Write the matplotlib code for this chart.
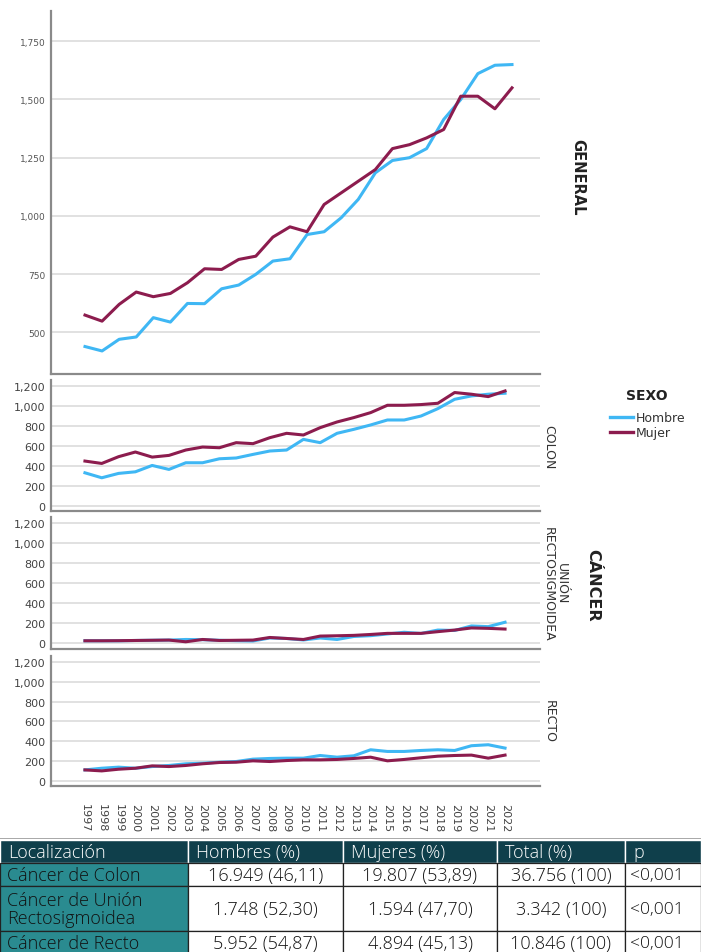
import numpy as np
import matplotlib
matplotlib.use("Agg")
import matplotlib.pyplot as plt
from matplotlib.patches import Rectangle
from matplotlib.ticker import FuncFormatter

years = list(range(1997, 2023))

# casos por año, general
general_hombre = [439, 420, 470, 480, 563, 544, 624, 623, 687, 703, 749, 806, 816,
                  920, 932, 992, 1071, 1185, 1238, 1250, 1289, 1414, 1500, 1611, 1647, 1650]
general_mujer = [574, 548, 620, 673, 653, 667, 713, 773, 770, 813, 827, 909, 953,
                 932, 1049, 1099, 1149, 1199, 1289, 1306, 1335, 1371, 1514, 1514, 1460, 1550]

colon_hombre = [329, 279, 323, 339, 403, 363, 430, 430, 470, 478, 514, 548, 558,
                665, 632, 726, 766, 810, 860, 860, 900, 974, 1068, 1102, 1119, 1129]
colon_mujer = [447, 423, 491, 538, 487, 504, 558, 588, 581, 632, 622, 682, 726,
               709, 783, 840, 884, 934, 1008, 1008, 1015, 1028, 1136, 1119, 1095, 1152]

union_hombre = [27, 27, 27, 30, 32, 34, 40, 38, 32, 28, 25, 55, 50,
                35, 55, 40, 70, 78, 95, 112, 100, 134, 130, 175, 168, 212]
union_mujer = [27, 27, 28, 30, 32, 34, 17, 40, 30, 32, 34, 60, 50,
               40, 74, 77, 81, 90, 101, 101, 101, 118, 134, 155, 151, 144]

recto_hombre = [108, 125, 136, 125, 142, 153, 170, 176, 186, 193, 217, 224, 227,
                227, 254, 237, 251, 312, 295, 295, 305, 312, 305, 353, 363, 329]
recto_mujer = [108, 98, 115, 125, 149, 142, 153, 170, 183, 186, 200, 193, 203,
               210, 210, 214, 224, 237, 200, 214, 231, 247, 254, 258, 227, 258]

panel_names = ["COLON", "UNIÓN\nRECTOSIGMOIDEA", "RECTO"]

table_header = ["Localización", "Hombres (%)", "Mujeres (%)", "Total (%)", "p"]
table_rows = [
    ["Cáncer de Colon", "16.949 (46,11)", "19.807 (53,89)", "36.756 (100)", "<0,001"],
    ["Cáncer de Unión\nRectosigmoidea", "1.748 (52,30)", "1.594 (47,70)", "3.342 (100)", "<0,001"],
    ["Cáncer de Recto", "5.952 (54,87)", "4.894 (45,13)", "10.846 (100)", "<0,001"],
]

c_hombre = "#3fb7f4"
c_mujer = "#8c1c4e"
grid_c = "#dcdcdc"
spine_c = "#8a8a8a"

W, H = 701, 953
fig = plt.figure(figsize=(W / 100, H / 100), dpi=100)


def px_axes(left, top, right, bottom):
    return fig.add_axes([left / W, 1 - bottom / H, (right - left) / W, (bottom - top) / H])


def style(ax, fs, tc):
    for s in ("top", "right"):
        ax.spines[s].set_visible(False)
    for s in ("left", "bottom"):
        ax.spines[s].set_color(spine_c)
        ax.spines[s].set_linewidth(1.6)
    ax.grid(axis="y", color=grid_c, linewidth=1.2)
    ax.set_axisbelow(True)
    ax.tick_params(axis="both", length=0, labelsize=fs, labelcolor=tc, pad=4)
    ax.yaxis.set_major_formatter(FuncFormatter(lambda v, p: f"{int(v):,}"))


# panel general
ax0 = px_axes(51, 12, 540, 375)
ax0.plot(years, general_hombre, color=c_hombre, lw=2.2)
ax0.plot(years, general_mujer, color=c_mujer, lw=2.2)
ax0.set_ylim(321, 1880)
ax0.set_yticks([500, 750, 1000, 1250, 1500, 1750])
ax0.set_xlim(1997 - 1.99, 2022 + 1.64)
style(ax0, 6.5, "#555555")
ax0.set_xticks([])

series = [(colon_hombre, colon_mujer), (union_hombre, union_mujer), (recto_hombre, recto_mujer)]
boxes = [(381, 512), (518, 650), (657, 787)]
label_pos = [(549, 447), (555, 584), (549, 721)]
axes = []
for (h, m), (top, bot) in zip(series, boxes):
    ax = px_axes(51, top, 540, bot)
    ax.plot(years, h, color=c_hombre, lw=2.2)
    ax.plot(years, m, color=c_mujer, lw=2.2)
    ax.set_ylim(-55, 1262)
    ax.set_yticks(range(0, 1201, 200))
    ax.set_xlim(1997 - 2.02, 2022 + 2.08)
    style(ax, 8, "#444444")
    ax.set_xticks(years)
    axes.append(ax)

for ax in axes[:-1]:
    ax.set_xticklabels([])
axes[-1].set_xticklabels([str(y) for y in years], rotation=-90, fontsize=8, color="#444444")
axes[-1].tick_params(axis="x", pad=12)

# rótulos de faceta
fig.text(578 / W, 1 - 177 / H, "GENERAL", rotation=-90, ha="center", va="center",
         fontsize=10.5, fontweight="bold", color="#222222")
for name, (xc, yc) in zip(panel_names, label_pos):
    fig.text(xc / W, 1 - yc / H, name, rotation=-90, ha="center", va="center",
             fontsize=9, color="#333333", linespacing=1.0)
fig.text(593 / W, 1 - 585 / H, "CÁNCER", rotation=-90, ha="center", va="center",
         fontsize=11.5, fontweight="bold", color="#222222")

# leyenda
fig.text(647 / W, 1 - 396 / H, "SEXO", ha="center", va="center",
         fontsize=10, fontweight="bold", color="#222222")
lax = px_axes(605, 408, 701, 442)
lax.set_xlim(0, 96)
lax.set_ylim(34, 0)
lax.axis("off")
for yy, c, t in [(10, c_hombre, "Hombre"), (25, c_mujer, "Mujer")]:
    lax.plot([5, 28], [yy, yy], color=c, lw=2.4)
    lax.text(31, yy, t, va="center", ha="left", fontsize=9, color="#333333")

# tabla
tax = px_axes(0, 839, 701, 953)
tax.set_xlim(0, W)
tax.set_ylim(953, 839)
tax.axis("off")
col_x = [0, 188, 343, 497, 625, 701]
row_y = [841, 864, 887, 932, 955]
tfont = "Open Sans"
tw = "light"
tax.axhline(839.5, color="#9a9a9a", lw=1.2)
for j in range(5):
    tax.add_patch(Rectangle((col_x[j], row_y[0]), col_x[j + 1] - col_x[j], row_y[1] - row_y[0],
                            facecolor="#0f3f4b", edgecolor="white", lw=1.0))
    tax.text(col_x[j] + 8, (row_y[0] + row_y[1]) / 2 + 1, table_header[j], color="white",
             ha="left", va="center", fontsize=13, family=tfont, fontweight=tw)
for i, row in enumerate(table_rows):
    y0, y1 = row_y[i + 1], row_y[i + 2]
    for j, val in enumerate(row):
        fc = "#2a8b90" if j == 0 else "white"
        tax.add_patch(Rectangle((col_x[j], y0), col_x[j + 1] - col_x[j], y1 - y0,
                                facecolor=fc, edgecolor="#222222", lw=0.9))
        if j == 0:
            tax.text(col_x[j] + 7, (y0 + y1) / 2 + 1, val, color="#111111", ha="left",
                     va="center", fontsize=13, family=tfont, fontweight=tw, linespacing=1.0)
        elif j == 4:
            tax.text(col_x[j] + 5, (y0 + y1) / 2 + 1, val, color="#111111", ha="left",
                     va="center", fontsize=12.5, family=tfont, fontweight=tw)
        else:
            tax.text((col_x[j] + col_x[j + 1]) / 2, (y0 + y1) / 2 + 1, val, color="#111111",
                     ha="center", va="center", fontsize=13, family=tfont, fontweight=tw)

fig.savefig("out.png", dpi=100)
